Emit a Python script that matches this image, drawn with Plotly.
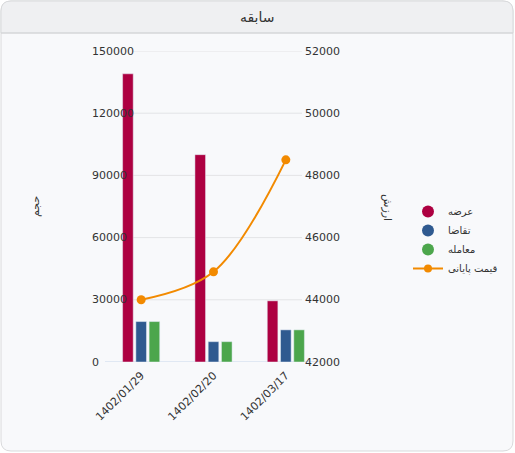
import plotly.graph_objects as go

categories = ["1402/01/29", "1402/02/20", "1402/03/17"]
supply = [139000, 100000, 29500]      # عرضه
demand = [19500, 9800, 15500]         # تقاضا
trade = [19500, 9800, 15500]          # معامله
close_price = [44000, 44900, 48500]   # قیمت پایانی
left_ticks = [0, 30000, 60000, 90000, 120000, 150000]
right_ticks = [42000, 44000, 46000, 48000, 50000, 52000]

W, H = 515, 453
L, R, T, B = 105, 322, 51, 362

def px(x):
    return (x - L) / (R - L)

def py(y):
    return (B - y) / (B - T)

FONT = "DejaVu Sans"
RED, BLUE, GREEN, ORANGE = "#AD0041", "#2F5A90", "#4CA64C", "#F28A00"

fig = go.Figure()
fig.add_trace(go.Bar(x=categories, y=supply, name="عرضه", marker_color=RED, showlegend=False))
fig.add_trace(go.Bar(x=categories, y=demand, name="تقاضا", marker_color=BLUE, showlegend=False))
fig.add_trace(go.Bar(x=categories, y=trade, name="معامله", marker_color=GREEN, showlegend=False))
fig.add_trace(go.Scatter(x=categories, y=close_price, name="قیمت پایانی", yaxis="y2",
                         mode="lines+markers", line=dict(color=ORANGE, width=2, shape="spline"),
                         marker=dict(size=9, color=ORANGE), showlegend=False))

# legend entries (circle symbols)
for name, col in [("عرضه", RED), ("تقاضا", BLUE), ("معامله", GREEN)]:
    fig.add_trace(go.Scatter(x=[None], y=[None], mode="markers", name=name,
                             marker=dict(size=12, color=col, symbol="circle")))
fig.add_trace(go.Scatter(x=[None], y=[None], mode="lines+markers", name="قیمت پایانی",
                         line=dict(color=ORANGE, width=2), marker=dict(size=8, color=ORANGE)))

shapes = []
# card background
r = 10
x0, x1, y0, y1 = 1, 513, 1, 451
def P(x, y):
    return f"{px(x):.5f},{py(y):.5f}"
card = (f"M {P(x0+r,y0)} L {P(x1-r,y0)} Q {P(x1,y0)} {P(x1,y0+r)} L {P(x1,y1-r)} "
        f"Q {P(x1,y1)} {P(x1-r,y1)} L {P(x0+r,y1)} Q {P(x0,y1)} {P(x0,y1-r)} "
        f"L {P(x0,y0+r)} Q {P(x0,y0)} {P(x0+r,y0)} Z")
shapes.append(dict(type="path", xref="paper", yref="paper", path=card,
                   fillcolor="#F8F9FB", line=dict(color="#D9DADC", width=1), layer="below"))
hy = 33
header = (f"M {P(x0+r,y0)} L {P(x1-r,y0)} Q {P(x1,y0)} {P(x1,y0+r)} L {P(x1,hy)} "
          f"L {P(x0,hy)} L {P(x0,y0+r)} Q {P(x0,y0)} {P(x0+r,y0)} Z")
shapes.append(dict(type="path", xref="paper", yref="paper", path=header,
                   fillcolor="#EFF0F2", line=dict(color="#D9DADC", width=1), layer="below"))
shapes.append(dict(type="line", xref="paper", yref="paper", x0=px(x0), x1=px(x1), y0=py(hy), y1=py(hy),
                   line=dict(color="#D3D4D6", width=1), layer="below"))
# gridlines
for v in left_ticks[1:]:
    shapes.append(dict(type="line", xref="paper", yref="y", x0=px(133), x1=px(302), y0=v, y1=v,
                       line=dict(color="#E3E4E6", width=1), layer="below"))
# baseline
shapes.append(dict(type="line", xref="paper", yref="y", x0=0, x1=1, y0=0, y1=0,
                   line=dict(color="#C8D6EA", width=1), layer="below"))

annotations = [
    dict(text="سابقه", x=px(257), y=py(17), xref="paper", yref="paper", showarrow=False,
         xanchor="center", yanchor="middle",
         font=dict(family=FONT, size=14, color="#333333")),
    dict(text="حجم", x=px(35), y=py(207), xref="paper", yref="paper", showarrow=False,
         xanchor="center", yanchor="middle",
         textangle=-90, font=dict(family=FONT, size=11, color="#333333")),
    dict(text="ارزش", x=px(388), y=py(207), xref="paper", yref="paper", showarrow=False,
         xanchor="center", yanchor="middle",
         textangle=90, font=dict(family=FONT, size=11, color="#333333")),
]
for v in left_ticks:
    annotations.append(dict(text=str(v), x=px(90), y=v, xref="paper", yref="y", xanchor="left",
                            yanchor="middle",
                            showarrow=False, font=dict(family=FONT, size=11, color="#333333")))
for v in right_ticks:
    annotations.append(dict(text=str(v), x=px(303), y=v, xref="paper", yref="y2", xanchor="left",
                            yanchor="middle",
                            showarrow=False, font=dict(family=FONT, size=11, color="#333333")))

fig.update_layout(
    width=W, height=H,
    margin=dict(l=L, r=W - R, t=T, b=H - B, pad=0, autoexpand=False),
    paper_bgcolor="white", plot_bgcolor="rgba(0,0,0,0)",
    barmode="group", bargap=0.45, bargroupgap=0.2,
    font=dict(family=FONT, size=11, color="#333333"),
    xaxis=dict(tickangle=-45, showgrid=False, showline=False, ticks="", automargin=False,
               ticklabelstandoff=4,
               tickfont=dict(family=FONT, size=11, color="#333333")),
    yaxis=dict(range=[0, 150000], showgrid=False, zeroline=False, showticklabels=False,
               tickvals=left_ticks, automargin=False),
    yaxis2=dict(range=[42000, 52000], overlaying="y", side="right", showgrid=False,
                zeroline=False, showticklabels=False, automargin=False),
    legend=dict(x=px(408), y=py(197), xanchor="left", yanchor="top", bgcolor="rgba(0,0,0,0)",
                font=dict(family=FONT, size=10, color="#333333"), itemwidth=30,
                tracegroupgap=0),
    shapes=shapes, annotations=annotations,
)

fig.write_html("out.html", config={"displayModeBar": False},
               post_script="document.body.style.margin='0';document.body.style.overflow='hidden';")
